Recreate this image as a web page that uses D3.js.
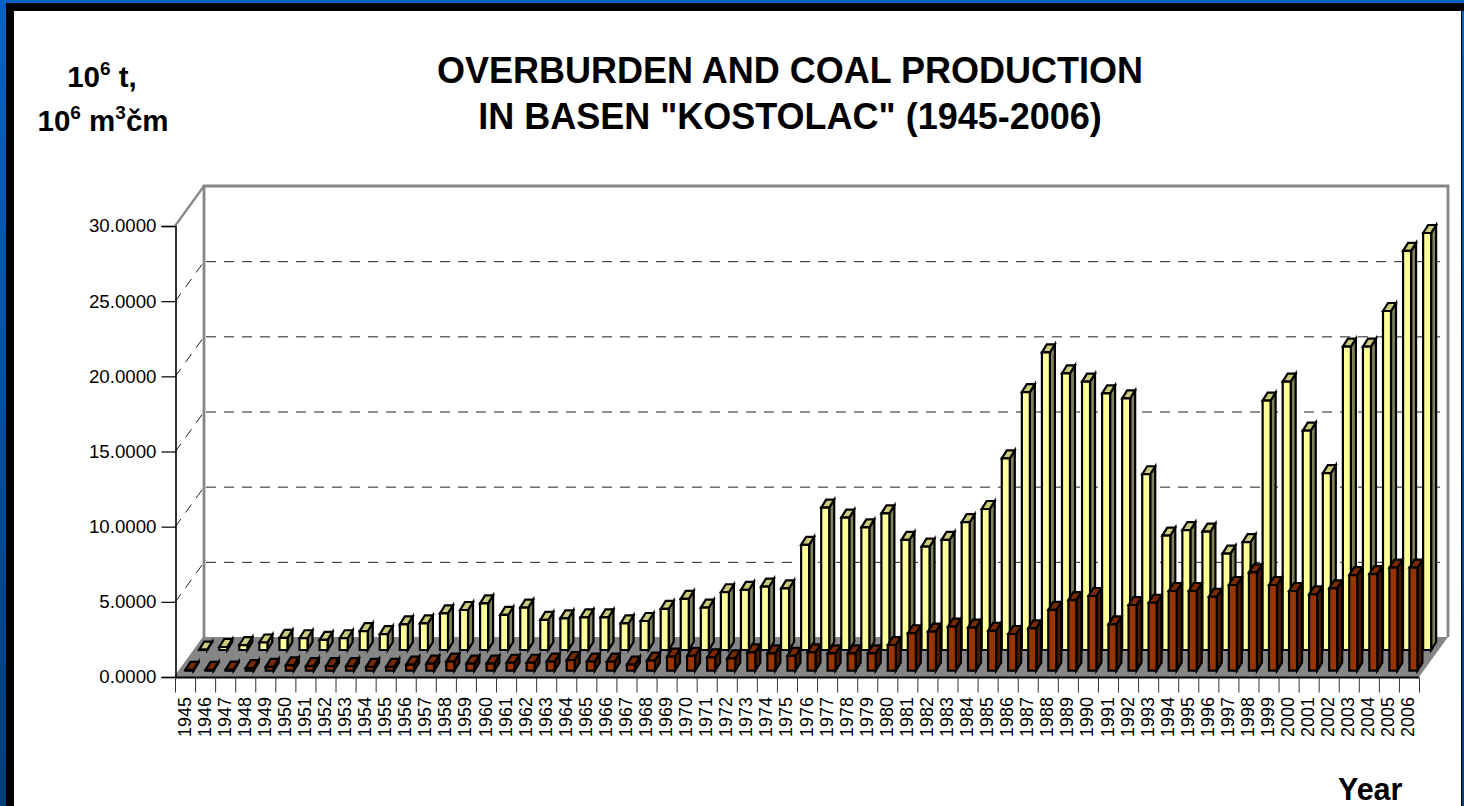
<!DOCTYPE html>
<html><head><meta charset="utf-8">
<script src="https://cdn.jsdelivr.net/npm/d3@7"></script>
<style>html,body{margin:0;padding:0;background:#fff;overflow:hidden}svg{display:block}text{font-family:"Liberation Sans",Arial,sans-serif;fill:#000}</style>
</head><body><script>
const years = d3.range(1945, 2007);
const overburden = [0.02,0.2,0.33,0.5,0.8,0.78,0.67,0.78,1.26,1.06,1.7,1.77,2.44,2.66,
 3.1,2.33,2.82,2.0,2.1,2.17,2.17,1.77,1.93,2.73,3.4,2.82,3.84,4.0,4.21,
 4.1,6.99,9.47,8.8,8.16,9.09,7.32,6.87,7.32,8.5,9.38,
 12.75,17.15,19.8,18.4,17.85,17.07,16.74,11.69,7.61,7.98,7.87,6.41,
 7.17,16.59,17.85,14.59,11.76,20.18,20.18,22.55,26.55,27.74];
const coal = [0.05,0.05,0.07,0.17,0.25,0.36,0.3,0.3,0.3,0.25,0.25,0.4,0.47,0.6,
 0.47,0.47,0.53,0.53,0.6,0.71,0.6,0.6,0.4,0.67,0.93,0.98,0.89,0.82,1.22,
 1.15,0.98,1.22,1.15,1.15,1.15,1.71,2.49,2.6,2.93,2.86,2.65,
 2.44,2.82,4.04,4.7,4.97,3.08,4.37,4.52,5.3,5.3,4.92,
 5.7,6.54,5.7,5.3,5.08,5.48,6.36,6.43,6.85,6.85];
const yTicks = [0,5,10,15,20,25,30];
const title = ['OVERBURDEN AND COAL PRODUCTION','IN BASEN "KOSTOLAC" (1945-2006)'];

const W=1464,H=806;
const svg=d3.select('body').append('svg').attr('width',W).attr('height',H);
const defs=svg.append('defs');
const g=defs.append('linearGradient').attr('id','bg').attr('x1',0).attr('y1',0).attr('x2',0).attr('y2',1);
g.append('stop').attr('offset',0).attr('stop-color','#0562c4');
g.append('stop').attr('offset',1).attr('stop-color','#033d78');
svg.append('rect').attr('width',W).attr('height',H).attr('fill','url(#bg)');
svg.append('rect').attr('x',6).attr('y',3).attr('width',W-6).attr('height',8).attr('fill','#000');
svg.append('rect').attr('x',6).attr('y',3).attr('width',1462-6).attr('height',H).attr('fill','#000');
svg.append('rect').attr('x',14).attr('y',11).attr('width',1461-14).attr('height',H).attr('fill','#fff');

const x=d3.scaleBand().domain(years).range([175,1419]);
const y=d3.scaleLinear().domain([0,30]).range([677,226]);
const DX=29,DY=-40;
const GREY='#868686';

// floor and walls
svg.append('path').attr('d',`M175,677L1419,677L${1419+DX},${677+DY}L${175+DX},${677+DY}Z`).attr('fill',GREY);
yTicks.slice(1,-1).forEach(t=>{
  const yy=y(t)+0.5;
  svg.append('line').attr('x1',175+DX+2).attr('x2',1419+DX-6).attr('y1',yy+DY).attr('y2',yy+DY).attr('stroke','#222').attr('stroke-dasharray','10 8');
  svg.append('line').attr('x1',175).attr('x2',175+DX).attr('y1',yy).attr('y2',yy+DY).attr('stroke','#222').attr('stroke-dasharray','10 8');
});
svg.append('path').attr('d',`M${175+DX},${677+DY}V${226+DY}H${1419+DX}V${677+DY}`).attr('fill','none').attr('stroke',GREY).attr('stroke-width',2.8);
svg.append('line').attr('x1',175).attr('y1',226).attr('x2',175+DX).attr('y2',226+DY).attr('stroke',GREY).attr('stroke-width',2.2);
svg.append('line').attr('x1',175).attr('y1',677).attr('x2',175+DX).attr('y2',677+DY).attr('stroke',GREY).attr('stroke-width',2);

// axes
const axisY=svg.append('g').attr('transform','translate(175.5,0)').call(d3.axisLeft(y).tickValues(yTicks).tickSize(14).tickPadding(5).tickFormat(d3.format('.4f')));
axisY.selectAll('text').style('font-size','18.7px');
axisY.selectAll('line').attr('stroke','#000').attr('stroke-width',1.2);
axisY.select('path').attr('stroke','#000').attr('stroke-width',1.6);
const axisX=svg.append('g').attr('transform','translate(0,677.5)');
axisX.append('line').attr('x1',175).attr('x2',1419).attr('stroke','#000').attr('stroke-width',2);
axisX.selectAll('line.t').data(d3.range(63)).join('line').attr('class','t')
  .attr('x1',i=>175+i*x.step()+.5).attr('x2',i=>175+i*x.step()+.5).attr('y1',0).attr('y2',15).attr('stroke','#333');
axisX.selectAll('text').data(years).join('text').text(d=>d)
  .attr('text-anchor','end').attr('transform',d=>`translate(${x(d)+x.step()/2+5.5},19.5) rotate(-90)`)
  .style('font-size','18px');

// bars
function bars(vals,base,ox,w,d,dy,front,top,side){
  const layer=svg.append('g');
  const h=v=>y(0)-y(v);
  const L=i=>x(years[i])+ox;
  layer.selectAll('g').data(vals).join('g').each(function(v,i){
    const s=d3.select(this),l=L(i),r=l+w,b=base,t=base-h(v);
    const add=(dstr,fill)=>s.append('path').attr('d',dstr).attr('fill',fill).attr('stroke','#000').attr('stroke-width',2.2).attr('stroke-linejoin','miter');
    add(`M${r},${b}L${r+d},${b+dy}V${t+dy}L${r},${t}Z`,side);
    add(`M${l},${t}L${l+d},${t+dy}H${r+d}L${r},${t}Z`,top);
    add(`M${l},${b}V${t}H${r}V${b}Z`,front);
  });
}
bars(overburden,650,24.2,8,5,-8,'#ffff99','#cccc7a','#80805a');
bars(coal,670.7,10.5,8,5,-8,'#993300','#7a2900','#4d1a00');

// titles
svg.append('g').selectAll('text').data(title).join('text').text(d=>d)
  .attr('x',790).attr('y',(d,i)=>83+i*46).attr('text-anchor','middle').style('font-size','36px').style('font-weight','bold');
const ylab=svg.append('g').style('font-weight','bold');
const t1=ylab.append('text').attr('x',102).attr('y',87).attr('text-anchor','middle').style('font-size','29.5px');
t1.append('tspan').text('10');t1.append('tspan').text('6').attr('dy',-12).style('font-size','19px');t1.append('tspan').text(' t,').attr('dy',12);
const t2=ylab.append('text').attr('x',103).attr('y',131).attr('text-anchor','middle').style('font-size','29.5px');
t2.append('tspan').text('10');t2.append('tspan').text('6').attr('dy',-12).style('font-size','19px');t2.append('tspan').text(' m').attr('dy',12);
t2.append('tspan').text('3').attr('dy',-12).style('font-size','19px');t2.append('tspan').text('čm').attr('dy',12);
svg.append('text').text('Year').attr('x',1338).attr('y',800).style('font-size','30.5px').style('font-weight','bold');
</script></body></html>
